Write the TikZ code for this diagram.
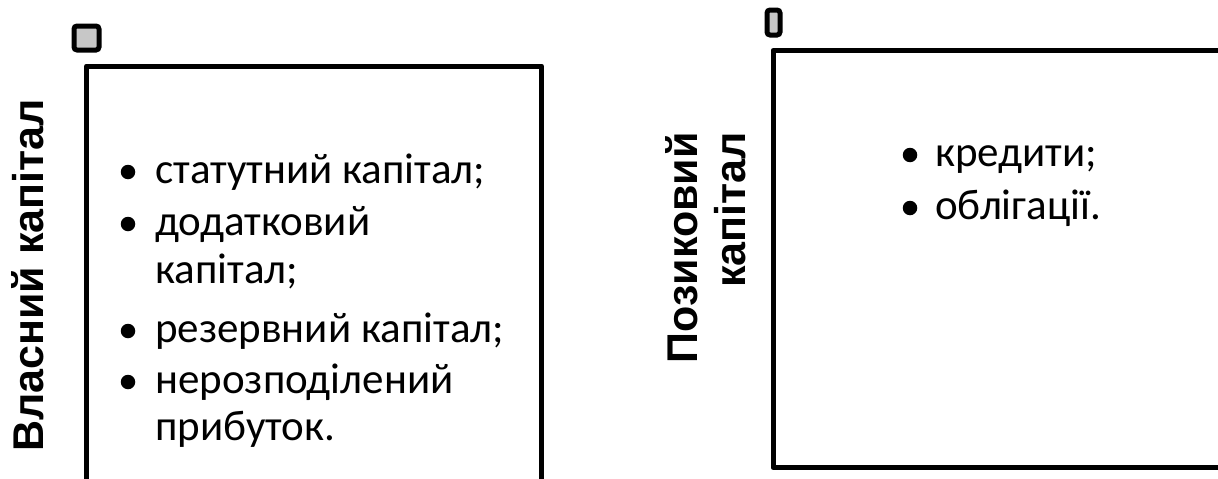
\documentclass[tikz,border=0pt]{standalone}
\usepackage{fontspec}
\setmainfont{Carlito}
\newfontfamily\headfont{Liberation Sans}
\tikzset{
  frame/.style={line width=5pt, line join=round},
  marker/.style={line width=5pt, rounded corners=3pt, fill=black!22},
  head/.style={font=\headfont\bfseries\fontsize{43}{48}\selectfont, rotate=90, inner sep=0pt},
  bul/.style={circle, fill=black, inner sep=0pt, minimum size=14.5pt},
  item/.style={font=\fontsize{43}{48}\selectfont, anchor=base west, inner sep=0pt},
}
\begin{document}
\begin{tikzpicture}[x=1pt,y=-1pt]
\useasboundingbox (0,0) rectangle (1218,479);
\clip (0,0) rectangle (1218,479);
% left group
\draw[marker] (74,26) rectangle (99,50);
\draw[frame] (86.5,66) rectangle (541.5,500);
\node[head, anchor=base west] (lh) at (43,452) {Власний капітал};
\node[bul] (b1) at (128,172) {};
\node[item] (t1) at (155,183) {статутний капітал;};
\node[bul] (b2) at (128,224) {};
\node[item] (t2) at (155,235) {додатковий};
\node[item] (t2b) at (155,283) {капітал;};
\node[bul] (b3) at (128,331) {};
\node[item] (t3) at (155,342) {резервний капітал;};
\node[bul] (b4) at (128,382) {};
\node[item] (t4) at (155,393) {нерозподілений};
\node[item] (t4b) at (155,440) {прибуток.};
% right group
\draw[marker] (767,10) rectangle (780,35);
\draw[frame] (773,50.5) rectangle (1240,467.5);
\node[head, anchor=base east] (rh1) at (697,132) {Позиковий};
\node[head, anchor=base east] (rh2) at (745,132) {капітал};
\node[bul] (b5) at (910,155) {};
\node[item] (t5) at (935,166) {кредити;};
\node[bul] (b6) at (910,208) {};
\node[item] (t6) at (935,219) {облігації.};
\end{tikzpicture}
\end{document}
